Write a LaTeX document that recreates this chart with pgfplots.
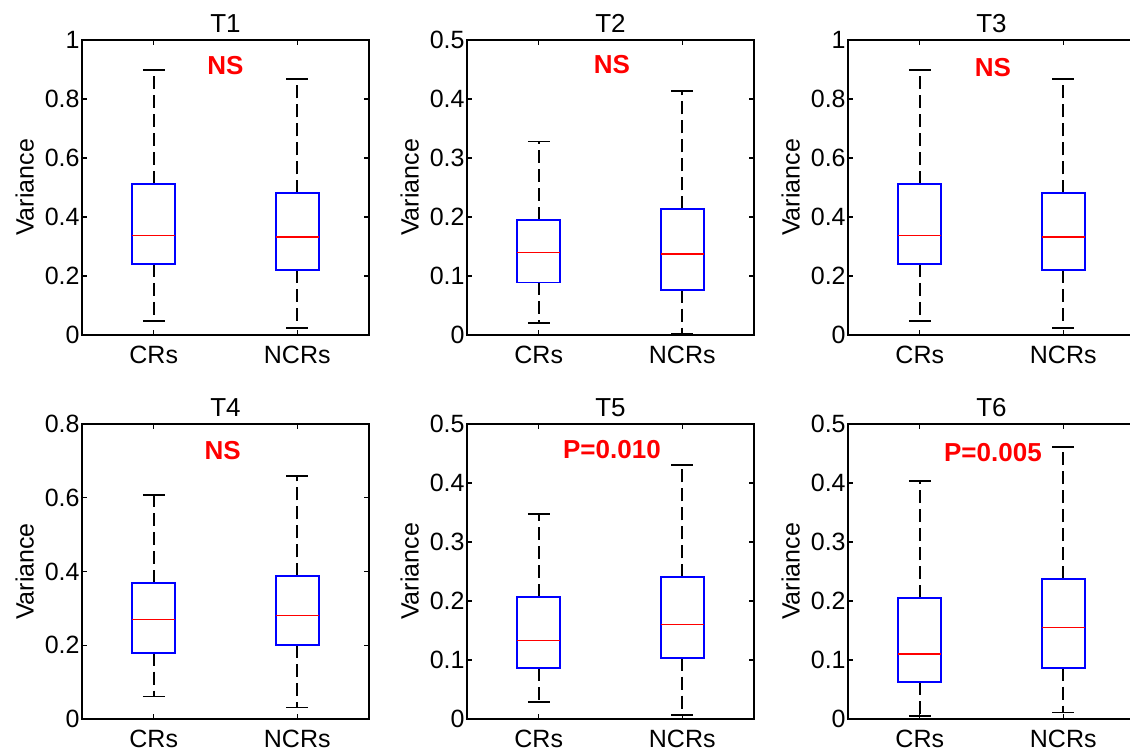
\documentclass[border=0pt]{standalone}
\usepackage{fontspec}
\setmainfont{Liberation Sans}
\usepackage{pgfplots}
\pgfplotsset{compat=1.18}
\usepgfplotslibrary{statistics}

\tikzset{sig/.style={text=red, font=\bfseries\fontsize{13}{15}\selectfont}}

\pgfplotsset{
  % #1 = quartile, #2 = whisker end
  boxplot/draw/whisker/.code 2 args={%
    \draw[black, line width=0.9pt, dash pattern=on 6.5pt off 3pt] (boxplot cs:#1) -- (boxplot cs:#2);
    \draw[black, line width=0.9pt] (boxplot box cs:#2,0.25) -- (boxplot box cs:#2,0.75);
  },
  panel/.style={
    scale only axis,
    width=143.5pt, height=147.5pt,
    anchor=south west,
    clip=false,
    xmin=0.5, xmax=2.5,
    xtick={1,2}, xticklabels={CRs,NCRs},
    ymin=0,
    axis line style={line width=0.9pt},
    tick style={black, line width=0.7pt},
    major tick length=2.5pt,
    tick align=inside,
    font=\fontsize{12.5}{14}\selectfont,
    ticklabel style={font=\fontsize{12.5}{14}\selectfont},
    /pgf/number format/assume math mode=true,
    yticklabel style={/pgf/number format/fixed, inner sep=1pt},
    xticklabel style={yshift=-2pt},
    ylabel={Variance},
    ylabel style={at={(rel axis cs:0,0.5)}, anchor=south, yshift=20.5pt},
    every axis title shift=0pt,
    title style={font=\fontsize{13}{15}\selectfont},
    boxplot/draw direction=y,
    boxplot/box extend=0.3,
    boxplot/every box/.style={draw=blue, line width=0.95pt},
    boxplot/every median/.style={draw=red, line width=0.75pt},
  },
}

\begin{document}
\begin{tikzpicture}

% T1
\begin{axis}[panel, at={(41pt,209pt)}, title={T1}, ymax=1, ytick={0,0.2,0.4,0.6,0.8,1}]
\addplot[boxplot prepared={lower whisker=0.047, lower quartile=0.241, median=0.337, upper quartile=0.513, upper whisker=0.898, draw position=1}] coordinates {};
\addplot[boxplot prepared={lower whisker=0.023, lower quartile=0.220, median=0.333, upper quartile=0.480, upper whisker=0.867, draw position=2}] coordinates {};
\node[sig] at (axis cs:1.5,0.915) {NS};
\end{axis}

% T2
\begin{axis}[panel, at={(233.5pt,209pt)}, title={T2}, ymax=0.5, ytick={0,0.1,0.2,0.3,0.4,0.5}]
\addplot[boxplot prepared={lower whisker=0.020, lower quartile=0.089, median=0.1395, upper quartile=0.195, upper whisker=0.328, draw position=1}] coordinates {};
\addplot[boxplot prepared={lower whisker=0.001, lower quartile=0.077, median=0.137, upper quartile=0.213, upper whisker=0.414, draw position=2}] coordinates {};
\node[sig] at (axis cs:1.51,0.458) {NS};
\end{axis}

% T3
\begin{axis}[panel, at={(424pt,209pt)}, title={T3}, ymax=1, ytick={0,0.2,0.4,0.6,0.8,1}]
\addplot[boxplot prepared={lower whisker=0.047, lower quartile=0.241, median=0.337, upper quartile=0.513, upper whisker=0.898, draw position=1}] coordinates {};
\addplot[boxplot prepared={lower whisker=0.023, lower quartile=0.220, median=0.333, upper quartile=0.480, upper whisker=0.867, draw position=2}] coordinates {};
\node[sig] at (axis cs:1.51,0.905) {NS};
\end{axis}

% T4
\begin{axis}[panel, at={(41pt,17pt)}, title={T4}, ymax=0.8, ytick={0,0.2,0.4,0.6,0.8}]
\addplot[boxplot prepared={lower whisker=0.061, lower quartile=0.180, median=0.270, upper quartile=0.370, upper whisker=0.608, draw position=1}] coordinates {};
\addplot[boxplot prepared={lower whisker=0.031, lower quartile=0.200, median=0.280, upper quartile=0.387, upper whisker=0.659, draw position=2}] coordinates {};
\node[sig] at (axis cs:1.48,0.727) {NS};
\end{axis}

% T5
\begin{axis}[panel, at={(233.5pt,17pt)}, title={T5}, ymax=0.5, ytick={0,0.1,0.2,0.3,0.4,0.5}]
\addplot[boxplot prepared={lower whisker=0.029, lower quartile=0.086, median=0.133, upper quartile=0.207, upper whisker=0.348, draw position=1}] coordinates {};
\addplot[boxplot prepared={lower whisker=0.007, lower quartile=0.104, median=0.160, upper quartile=0.240, upper whisker=0.431, draw position=2}] coordinates {};
\node[sig] at (axis cs:1.51,0.456) {P=0.010};
\end{axis}

% T6
\begin{axis}[panel, at={(424pt,17pt)}, title={T6}, ymax=0.5, ytick={0,0.1,0.2,0.3,0.4,0.5}]
\addplot[boxplot prepared={lower whisker=0.005, lower quartile=0.062, median=0.110, upper quartile=0.205, upper whisker=0.403, draw position=1}] coordinates {};
\addplot[boxplot prepared={lower whisker=0.011, lower quartile=0.087, median=0.155, upper quartile=0.237, upper whisker=0.4605, draw position=2}] coordinates {};
\node[sig] at (axis cs:1.51,0.451) {P=0.005};
\end{axis}

\pgfresetboundingbox
\path[use as bounding box] (0,0) rectangle (565pt,376.5pt);
\end{tikzpicture}
\end{document}
